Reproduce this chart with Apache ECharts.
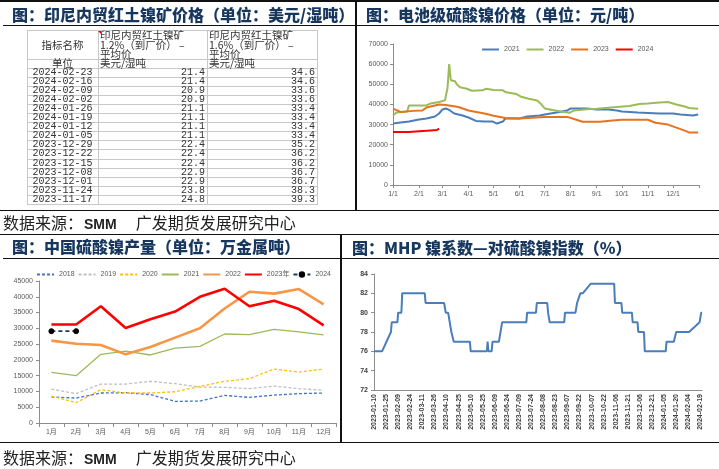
<!DOCTYPE html>
<html><head><meta charset="utf-8">
<script src="https://cdn.jsdelivr.net/npm/echarts@6/dist/echarts.min.js"></script>
<style>
html,body{margin:0;padding:0;background:#fff;width:719px;height:469px;overflow:hidden;}
#chart{position:absolute;left:0;top:0;width:719px;height:469px;}
.ln{position:absolute;background:#111;}
.tl{position:absolute;background:#c8c8c8;}
.title{position:absolute;font-family:'Noto Sans CJK SC';font-weight:900;font-size:16px;color:#17375E;white-space:nowrap;line-height:18px;}
.src{position:absolute;font-family:'Noto Sans CJK SC';font-size:16px;color:#222;white-space:nowrap;line-height:18px;}
.src b{font-family:'Liberation Sans Narrow','Liberation Sans';font-size:14px;font-weight:bold;margin:0 19px 0 1px;}
.cell{position:absolute;white-space:nowrap;color:#333;line-height:10px;}
.mono{font-family:'Liberation Mono','DejaVu Sans Mono',monospace;font-size:10px;}
.cjk{font-family:'Noto Sans CJK SC';font-size:10.5px;}
</style></head>
<body>
<div id="chart"></div>
<div id="overlay"></div>
<script>
// ---------- Table data (印尼内贸红土镍矿价格) ----------
const tableHeadCol1 = ['指标名称', '单位'];
const tableHeadCol2 = ['印尼内贸红土镍矿', '1.2%（到厂价） –', '平均价', '美元/湿吨'];
const tableHeadCol3 = ['印尼内贸红土镍矿', '1.6%（到厂价） –', '平均价', '美元/湿吨'];
const tableDates = ['2024-02-23','2024-02-16','2024-02-09','2024-02-02','2024-01-26','2024-01-19','2024-01-12','2024-01-05','2023-12-29','2023-12-22','2023-12-15','2023-12-08','2023-12-01','2023-11-24','2023-11-17'];
const tableNi12 = ['21.4','21.4','20.9','20.9','21.1','21.1','21.1','21.1','22.4','22.4','22.4','22.9','22.9','23.8','24.8'];
const tableNi16 = ['34.6','34.6','33.6','33.6','33.4','33.4','33.4','33.4','35.2','36.2','36.2','36.7','36.7','38.3','39.3'];

// ---------- 电池级硫酸镍价格 (元/吨) ----------
const nsMonthLabels = ['1/1','2/1','3/1','4/1','5/1','6/1','7/1','8/1','9/1','10/1','11/1','12/1'];
const ns2021Dates = ['1/1','1/10','1/20','2/1','2/10','2/20','2/25','3/1','3/5','3/10','3/15','3/25','4/1','4/10','4/20','4/30','5/5','5/12','5/15','6/1','6/10','6/25','7/1','7/15','7/28','8/1','8/20','9/1','9/15','9/25','10/1','10/20','11/1','11/15','12/1','12/10','12/25','12/31'];
const ns2021Values = [30500,31000,31500,32500,33000,34000,35500,37500,38000,37000,35500,34500,33500,31800,31500,31500,30500,31500,33000,33000,34000,34500,35000,36000,37000,38000,38000,37500,37500,37000,36500,36000,35800,35500,35500,35000,34500,35000];
const ns2022Dates = ['1/1','1/5','1/18','1/20','2/10','2/15','2/25','3/4','3/7','3/9','3/11','3/16','3/18','3/22','3/30','4/5','4/18','4/22','5/1','5/12','5/16','5/28','6/3','6/12','6/22','6/26','7/1','7/10','7/20','7/31','8/5','8/20','9/1','9/25','10/10','10/22','11/1','11/15','11/25','12/5','12/15','12/20','12/31'];
const ns2022Values = [34500,36000,36500,39500,39500,40500,41200,42000,48000,60000,52000,51500,50000,48500,47800,46800,47000,47800,47200,47000,46000,45200,43800,42800,42000,40500,38000,37200,36500,35900,37000,37600,37900,38700,39200,40200,40500,41000,41200,40000,39000,38200,37900];
const ns2023Dates = ['1/1','1/10','1/25','2/5','2/10','2/25','3/5','3/20','4/1','4/20','5/1','5/15','6/1','7/1','7/28','8/5','8/15','9/5','9/20','10/1','11/1','11/10','11/25','12/5','12/15','12/20','12/31'];
const ns2023Values = [37900,36300,36800,37000,38500,40000,39700,38700,37000,35500,34400,33300,33000,33800,33800,32800,31400,31400,32000,32400,32400,30900,30000,28500,27000,26100,26100];
const ns2024Dates = ['1/1','1/20','2/1','2/15','2/22','2/25'];
const ns2024Values = [26300,26300,26700,27100,27300,28000];

// ---------- 中国硫酸镍产量 (万金属吨) ----------
const prodMonths = ['1月','2月','3月','4月','5月','6月','7月','8月','9月','10月','11月','12月'];
const prodNames = ['2018','2019','2020','2021','2022','2023年','2024'];
const prod2018 = [8250,7900,9500,9600,9000,6850,6950,8750,8100,8850,9300,9500];
const prod2019 = [10750,9300,12350,12350,13200,12450,11400,11300,10900,11700,10900,10350];
const prod2020 = [8550,6450,10550,9500,9500,9900,11600,13200,14050,17100,16150,17100];
const prod2021 = [16050,15000,21750,22800,21550,23750,24300,28200,28000,29700,28850,27900];
const prod2022 = [26100,25100,24700,21750,24100,27050,30000,36300,41600,41000,42450,37600];
const prod2023 = [31200,31200,37000,30100,32850,35300,40000,42550,37000,38750,36100,30950];
const prod2024 = [29100,29100];

// ---------- MHP 镍系数—对硫酸镍指数 (%) ----------
const mhpTickLabels = ['2023-01-10','2023-01-25','2023-02-09','2023-02-24','2023-03-11','2023-03-26','2023-04-10','2023-04-25','2023-05-10','2023-05-25','2023-06-09','2023-06-24','2023-07-09','2023-07-24','2023-08-08','2023-08-23','2023-09-07','2023-09-22','2023-10-07','2023-10-22','2023-11-06','2023-11-21','2023-12-06','2023-12-21','2024-01-05','2024-01-20','2024-02-04','2024-02-19'];
const mhpDates = ['2023-01-10','2023-01-20','2023-01-31','2023-02-01','2023-02-08','2023-02-09','2023-02-13','2023-02-14','2023-03-14','2023-03-15','2023-04-07','2023-04-09','2023-04-12','2023-04-16','2023-04-18','2023-04-19','2023-05-09','2023-05-10','2023-05-30','2023-05-31','2023-06-01','2023-06-05','2023-06-06','2023-06-14','2023-06-16','2023-06-18','2023-07-18','2023-07-19','2023-07-30','2023-07-31','2023-08-13','2023-08-14','2023-08-16','2023-09-03','2023-09-04','2023-09-17','2023-09-19','2023-09-23','2023-09-26','2023-10-06','2023-11-04','2023-11-05','2023-11-13','2023-11-14','2023-11-26','2023-11-27','2023-12-03','2023-12-04','2023-12-11','2023-12-12','2024-01-07','2024-01-08','2024-01-17','2024-01-20','2024-02-05','2024-02-18','2024-02-19','2024-02-20','2024-02-21'];
const mhpValues = [76,76,78,79,79,80,80,82,82,81,81,80,80,78,78,77,77,76,76,77,76,76,77,77,78,79,79,80,80,81,81,80,79,79,80,80,81,82,82,83,83,81,81,80,80,79,79,78,78,76,76,77,77,78,78,79,79,80,80];

// ---------- helpers ----------
function doy(md){const p=md.split('/').map(Number);return (Date.UTC(2021,p[0]-1,p[1])-Date.UTC(2021,0,1))/864e5;}
function dayOff(s){const p=s.split('-').map(Number);return (Date.UTC(p[0],p[1]-1,p[2])-Date.UTC(2023,0,10))/864e5;}
function pairs(ds,vs,f){return ds.map((d,i)=>[f(d),vs[i]]);}

// ---------- overlay: frame lines, titles, source, table ----------
const ov = document.getElementById('overlay');
function add(html){ov.insertAdjacentHTML('beforeend',html);}
function line(x,y,w,h,cls){add(`<div class="${cls||'ln'}" style="left:${x}px;top:${y}px;width:${w}px;height:${h}px"></div>`);}
line(0,0,719,2);
line(3,25,716,1);
line(355,0,1.5,210);
line(0,209.5,719,1.5);
line(0,233.5,719,1.5);
line(3,258,716,1);
line(340,234,1.5,208);
line(0,441.5,719,1.5);
add('<div class="title" style="left:12px;top:5px">图：印尼内贸红土镍矿价格（单位：美元/湿吨）</div>');
add('<div class="title" style="left:366px;top:5px">图：电池级硫酸镍价格（单位：元/吨）</div>');
add('<div class="title" style="left:12px;top:237px">图：中国硫酸镍产量（单位：万金属吨）</div>');
add('<div class="title" style="left:352px;top:238px">图：MHP 镍系数—对硫酸镍指数（%）</div>');
add('<div class="src" style="left:3px;top:213px">数据来源：<b>SMM</b>广发期货发展研究中心</div>');
add('<div class="src" style="left:3px;top:448px">数据来源：<b>SMM</b>广发期货发展研究中心</div>');

// table
const tx=[27,98,207,317];
const headTop=30, headEnd=58.5, unitEnd=67.5, tblBottom=204;
const rowH=(tblBottom-unitEnd)/tableDates.length;
const ys=[headTop,headEnd,unitEnd];
for(let i=1;i<=tableDates.length;i++) ys.push(unitEnd+i*rowH);
ys.forEach(y=>line(tx[0],y,tx[3]-tx[0]+1,1,'tl'));
tx.forEach(x=>line(x,headTop,1,tblBottom-headTop+1,'tl'));
add(`<div style="position:absolute;left:${tx[1]+1}px;top:${headTop+1}px;width:0;height:0;border-top:3px solid #e00;border-left:3px solid transparent;transform:translateX(-1px)"></div>`);
function cell(txt,x,yc,align,cls,w){
  const st = align==='center' ? `left:${x-w/2}px;width:${w}px;text-align:center;` : align==='right' ? `left:${x-w}px;width:${w}px;text-align:right;` : `left:${x}px;`;
  add(`<div class="cell ${cls}" style="${st}top:${yc-5}px">${txt}</div>`);
}
cell(tableHeadCol1[0],(tx[0]+tx[1])/2,45,'center','cjk',70);
cell(tableHeadCol1[1],(tx[0]+tx[1])/2,63,'center','cjk',70);
const hy=[35,44.5,53.5,63];
tableHeadCol2.forEach((t,i)=>cell(t,tx[1]+2,hy[i],'left','cjk'));
tableHeadCol3.forEach((t,i)=>cell(t,tx[2]+2,hy[i],'left','cjk'));
tableDates.forEach((d,i)=>{
  const yc=unitEnd+(i+0.5)*rowH+0.5;
  cell(d,(tx[0]+tx[1])/2,yc,'center','mono',70);
  cell(tableNi12[i],tx[2]-2,yc,'right','mono',60);
  cell(tableNi16[i],tx[3]-2,yc,'right','mono',60);
});

// ---------- ECharts ----------
const FONT="'Liberation Sans','Noto Sans CJK SC',sans-serif";
const monthPos = nsMonthLabels.map(doy);
const axisGray = '#8c8c8c';
const chart = echarts.init(document.getElementById('chart'),null,{renderer:'canvas'});
const lbl = (size,color,extra)=>Object.assign({fontSize:size,color:color,fontFamily:FONT},extra||{});
const plain = v => String(v);
const noSym = {opacity:0,color:'rgba(0,0,0,0)',borderColor:'rgba(0,0,0,0)',borderWidth:0};
// bottom-left series ids differ from top chart names by a zero-width suffix so legends stay separate
const pn = prodNames.map(n=>n+'\u200b');

chart.setOption({
  animation:false,
  backgroundColor:'transparent',
  textStyle:{fontFamily:FONT},
  legend:[
    {left:476,top:41,itemWidth:17,itemHeight:8,itemGap:6,textStyle:lbl(7,'#595959'),
     data:['2021','2022','2023','2024'].map(n=>({name:n,itemStyle:noSym}))},
    {left:31,top:266,itemWidth:17,itemHeight:8,itemGap:3,textStyle:lbl(7,'#595959'),
     data:pn.slice(0,6).map(n=>({name:n,itemStyle:noSym})).concat([{name:pn[6]}])}
  ],
  grid:[
    {left:393,top:44,width:306,height:141},
    {left:39,top:281,width:297,height:142},
    {left:374,top:274,width:328,height:116}
  ],
  xAxis:[
    {gridIndex:0,type:'value',min:0,max:365,splitLine:{show:false},
     axisLine:{lineStyle:{color:axisGray}},
     axisTick:{customValues:monthPos.concat([365]),length:3,lineStyle:{color:axisGray}},
     axisLabel:Object.assign(lbl(7,'#595959'),{margin:6,customValues:monthPos,formatter:v=>nsMonthLabels[monthPos.indexOf(v)]||''})},
    {gridIndex:1,type:'category',data:prodMonths,boundaryGap:true,
     axisLine:{lineStyle:{color:axisGray}},
     axisTick:{show:true,interval:0,length:4,lineStyle:{color:axisGray}},
     axisLabel:Object.assign(lbl(7,'#595959'),{margin:6,interval:0})},
    {gridIndex:2,type:'value',min:0,max:407,interval:15,splitLine:{show:false},
     axisLine:{lineStyle:{color:'#8c8c8c'}},axisTick:{show:false},
     axisLabel:Object.assign(lbl(7,'#404040',{fontWeight:'bold'}),{rotate:90,margin:4,showMaxLabel:false,
       formatter:v=>(v%15===0 && mhpTickLabels[v/15]) ? mhpTickLabels[v/15] : ''})}
  ],
  yAxis:[
    {gridIndex:0,type:'value',min:0,max:70000,interval:10000,splitLine:{show:false},
     axisLine:{show:true,lineStyle:{color:axisGray}},axisTick:{show:true,length:3,lineStyle:{color:axisGray}},
     axisLabel:Object.assign(lbl(7,'#595959'),{margin:5,formatter:plain})},
    {gridIndex:1,type:'value',min:0,max:45000,interval:5000,splitLine:{show:false},
     axisLine:{show:true,lineStyle:{color:axisGray}},axisTick:{show:true,length:3,lineStyle:{color:axisGray}},
     axisLabel:Object.assign(lbl(7,'#595959'),{margin:6,formatter:plain})},
    {gridIndex:2,type:'value',min:72,max:84,interval:2,splitLine:{show:false},
     axisLine:{show:true,lineStyle:{color:'#8c8c8c'}},axisTick:{show:true,length:3,lineStyle:{color:'#8c8c8c'}},
     axisLabel:Object.assign(lbl(7,'#404040',{fontWeight:'bold'}),{margin:6,formatter:plain})}
  ],
  series:[
    {name:'2021',type:'line',xAxisIndex:0,yAxisIndex:0,symbol:'none',color:'#4A7EBB',lineStyle:{width:2},data:pairs(ns2021Dates,ns2021Values,doy)},
    {name:'2022',type:'line',xAxisIndex:0,yAxisIndex:0,symbol:'none',color:'#9BBB59',lineStyle:{width:2},data:pairs(ns2022Dates,ns2022Values,doy)},
    {name:'2023',type:'line',xAxisIndex:0,yAxisIndex:0,symbol:'none',color:'#E8731F',lineStyle:{width:2},data:pairs(ns2023Dates,ns2023Values,doy)},
    {name:'2024',type:'line',xAxisIndex:0,yAxisIndex:0,symbol:'none',color:'#FF0000',lineStyle:{width:2},data:pairs(ns2024Dates,ns2024Values,doy)},

    {name:pn[0],type:'line',xAxisIndex:1,yAxisIndex:1,symbol:'none',color:'#4472C4',lineStyle:{width:1.3,type:[3,2]},data:prod2018},
    {name:pn[1],type:'line',xAxisIndex:1,yAxisIndex:1,symbol:'none',color:'#BFBFBF',lineStyle:{width:1.3,type:[3,2]},data:prod2019},
    {name:pn[2],type:'line',xAxisIndex:1,yAxisIndex:1,symbol:'none',color:'#FFC000',lineStyle:{width:1.3,type:[3,2]},data:prod2020},
    {name:pn[3],type:'line',xAxisIndex:1,yAxisIndex:1,symbol:'none',color:'#9BBB59',lineStyle:{width:1.3},data:prod2021},
    {name:pn[4],type:'line',xAxisIndex:1,yAxisIndex:1,symbol:'none',color:'#F79646',lineStyle:{width:2.6},data:prod2022},
    {name:pn[5],type:'line',xAxisIndex:1,yAxisIndex:1,symbol:'none',color:'#FF0000',lineStyle:{width:2.6},data:prod2023},
    {name:pn[6],type:'line',xAxisIndex:1,yAxisIndex:1,symbol:'circle',symbolSize:5,color:'#1F3864',
     itemStyle:{color:'#000',borderColor:'#000'},lineStyle:{width:1.8,type:[4,3],color:'#1F3864'},data:prod2024},

    {name:'MHP',type:'line',xAxisIndex:2,yAxisIndex:2,symbol:'none',color:'#4A7EBB',lineStyle:{width:2},data:pairs(mhpDates,mhpValues,dayOff)}
  ]
});
</script>
</body></html>
